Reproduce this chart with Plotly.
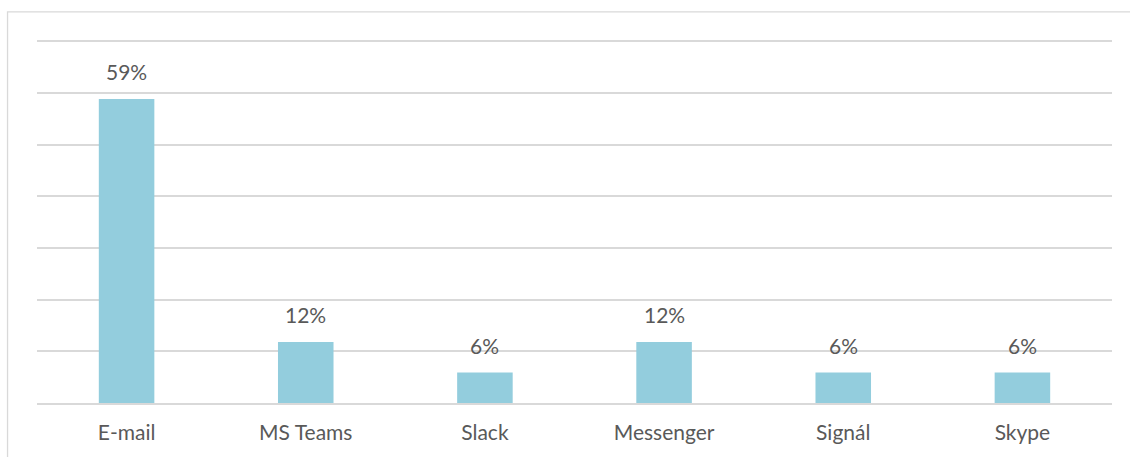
import plotly.graph_objects as go

categories = ["E-mail", "MS Teams", "Slack", "Messenger", "Signál", "Skype"]
shares = [58.8, 11.8, 5.9, 11.8, 5.9, 5.9]  # percent of respondents
y_ticks = [0, 10, 20, 30, 40, 50, 60, 70]

BAR = "#93cddd"
GRID = "#d9d9d9"
TEXT = "#595959"
FONT = "Lato"

fig = go.Figure()
fig.add_trace(go.Bar(
    x=categories, y=shares, marker=dict(color=BAR, line=dict(width=0)),
    hoverinfo="skip",
))

for c, v in zip(categories, shares):
    fig.add_annotation(
        x=c, y=v, text=f"{v:.0f}%", showarrow=False,
        yanchor="bottom", yshift=13,
        font=dict(family=FONT, size=21, color=TEXT),
    )

fig.add_shape(
    type="rect", xref="paper", yref="paper",
    x0=-0.0274, x1=1.06, y0=-0.3, y1=1.066,
    line=dict(color=GRID, width=1.3), fillcolor="rgba(0,0,0,0)",
)

fig.update_layout(
    width=1130, height=457,
    margin=dict(l=37, r=18, t=36, b=54),
    paper_bgcolor="white", plot_bgcolor="white",
    bargap=0.69, showlegend=False,
    font=dict(family=FONT, size=21, color=TEXT),
)
fig.update_xaxes(
    showgrid=False, showline=True, linecolor=GRID, linewidth=1.5,
    ticks="", ticklabelstandoff=10,
    tickfont=dict(family=FONT, size=21, color=TEXT),
    fixedrange=True,
)
fig.update_yaxes(
    range=[0, 71], tickvals=y_ticks, showticklabels=False,
    showgrid=True, gridcolor=GRID, gridwidth=1.5,
    zeroline=False, showline=False, fixedrange=True,
)

fig.write_html(
    "out.html", config={"displayModeBar": False},
    post_script="document.body.style.margin='0';document.body.style.overflow='hidden';",
)
